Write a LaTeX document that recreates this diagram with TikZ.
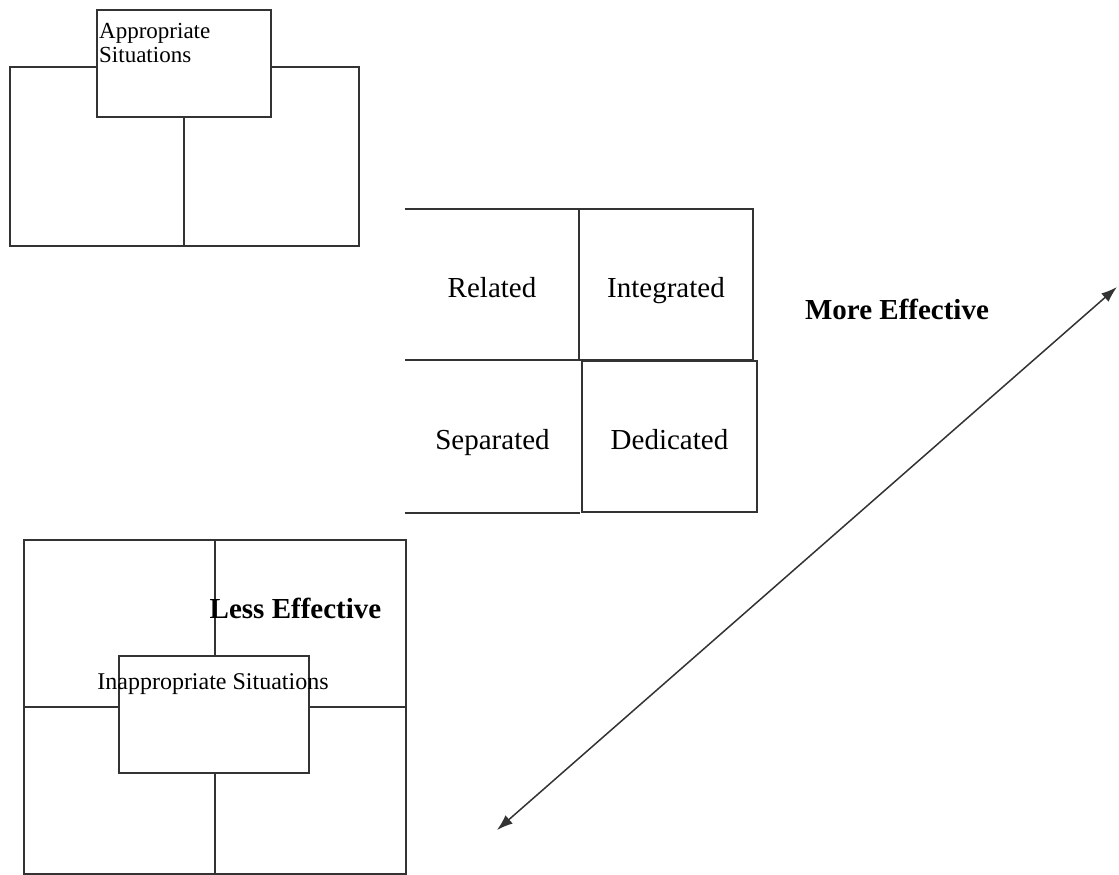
\documentclass[tikz,border=0pt]{standalone}
\usepackage{fontspec}
\setmainfont{Liberation Serif}
\usetikzlibrary{arrows.meta}
\tikzset{
  frame/.style={draw=black!80, line width=1.8pt},
  box/.style={frame, fill=white, inner sep=0pt},
  cell/.style={inner sep=0pt, minimum width=174pt, minimum height=151pt,
    text height=26pt, text depth=0pt, font=\fontsize{29}{33}\selectfont},
  small/.style={inner sep=0pt, font=\fontsize{23}{24}\selectfont},
  strong/.style={inner sep=0pt, font=\fontsize{29}{33}\selectfont\bfseries},
  twoway/.style={{Latex[length=16pt,width=11pt]}-{Latex[length=16pt,width=11pt]}},
}
\begin{document}
\begin{tikzpicture}[x=1pt, y=-1pt]
        \useasboundingbox (0,0) rectangle (1119,875);

        % Appropriate situations
        \node(tlgrid) [box, minimum width=349pt, minimum height=179pt] at (184.5,156.5) {};
        \node(tlsit) [box, minimum width=174pt, minimum height=107pt] at (184,63.5) {};
        \draw[frame] (tlsit.south) -- (tlsit.south |- tlgrid.south);
        \node(tltext) [small, anchor=north west, align=left] at (99,23) {Appropriate\\Situations};

        % Grid
        \node(rel) [cell] at (492,284.5) {Related};
        \node(int) [cell, frame] at (666,284.5) {Integrated};
        \node(sep) [cell, minimum width=175pt, minimum height=153pt] at (492.5,436.5) {Separated};
        \node(ded) [cell, frame, minimum width=175pt] at (669.5,436.5) {Dedicated};
        \draw[frame] (rel.north west) -- (rel.north east) -- (rel.south east) -- (rel.south west);
        \draw[frame] (sep.south west) -- (sep.south east);

        % Inappropriate situations
        \node(blgrid) [box, minimum width=382pt, minimum height=334pt] at (215,707) {};
        \draw[frame] (blgrid.north) -- (blgrid.south);
        \draw[frame] (blgrid.west) -- (blgrid.east);
        \node(blsit) [box, minimum width=190pt, minimum height=117pt] at (214,714.5) {};
        \node(bltext) [small, font=\fontsize{24}{26}\selectfont, anchor=base] at (213,689) {Inappropriate Situations};
        \node(less) [strong, anchor=base] at (295.5,618) {Less Effective};

        % Scale
        \node(more) [strong, anchor=base] at (897,319) {More Effective};
        \coordinate (lo) at (497,830);
        \coordinate (hi) at (1117,287);
        \draw[frame, line width=1.5pt, twoway] (lo) -- (hi);
    \end{tikzpicture}
\end{document}
